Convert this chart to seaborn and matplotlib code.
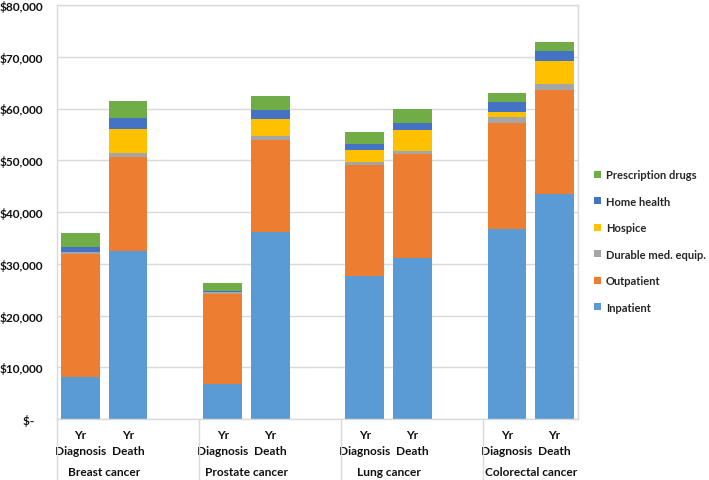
import matplotlib
matplotlib.use("Agg")
import matplotlib.pyplot as plt
import matplotlib.transforms as mtransforms
from matplotlib.patches import Patch
import numpy as np
import pandas as pd
import seaborn as sns

# ---- data ----
categories = ["Breast cancer", "Prostate cancer", "Lung cancer", "Colorectal cancer"]
periods = ["Yr\nDiagnosis", "Yr\nDeath"]
components = ["Inpatient", "Outpatient", "Durable med. equip.", "Hospice",
              "Home health", "Prescription drugs"]
inpatient = [8200, 32500, 6700, 36100, 27600, 31100, 36800, 43500]
outpatient = [23700, 18200, 17500, 17900, 21500, 20050, 20400, 20000]
durable = [300, 650, 250, 700, 600, 650, 1150, 1200]
hospice = [150, 4700, 50, 3300, 2200, 4050, 1050, 4450]
home_health = [950, 2100, 250, 1800, 1200, 1350, 1900, 1900]
prescription = [2600, 3250, 1550, 2550, 2450, 2700, 1750, 1850]
y_ticks = [0, 10000, 20000, 30000, 40000, 50000, 60000, 70000, 80000]
y_labels = ["$-   ", "$10,000", "$20,000", "$30,000", "$40,000",
            "$50,000", "$60,000", "$70,000", "$80,000"]

colors = ["#5B9BD5", "#ED7D31", "#A5A5A5", "#FFC000", "#4472C4", "#70AD47"]

sns.set_theme(style="white")
plt.rcParams["font.family"] = ["Lato", "DejaVu Sans"]
plt.rcParams["font.weight"] = "bold"

# slots: two bars per group plus an empty separator slot between groups
slots = []
for g in range(len(categories)):
    for p in range(len(periods)):
        slots.append(g * 3 + p)
n_slots = 3 * len(categories) - 1

layers = [inpatient, outpatient, durable, hospice, home_health, prescription]
cum = np.cumsum(np.array(layers, dtype=float), axis=0)

rows = []
for li, name in enumerate(components):
    for si, s in enumerate(slots):
        rows.append({"slot": s, "component": name, "cum": cum[li, si]})
df = pd.DataFrame(rows)

fig = plt.figure(figsize=(7.09, 4.81), dpi=100)
ax = fig.add_axes([57 / 709, 1 - 420 / 481, (578 - 57) / 709, (420 - 6) / 481])

for li in reversed(range(len(components))):
    sub = df[df["component"] == components[li]]
    sns.barplot(data=sub, x="slot", y="cum", order=list(range(n_slots)),
                color=colors[li], saturation=1, width=0.82, ax=ax,
                errorbar=None, linewidth=0)

ax.set_ylim(0, 80000)
ax.set_xlim(-0.5, n_slots - 0.5)
ax.set_yticks(y_ticks)
ax.set_yticklabels(y_labels, fontsize=8.6, fontweight="bold", color="#111111")
ax.yaxis.grid(True, color="#d9d9d9", linewidth=1)
ax.set_axisbelow(True)
ax.set_xlabel("")
ax.set_ylabel("")
for sp in ax.spines.values():
    sp.set_color("#d9d9d9")
    sp.set_linewidth(1)
ax.tick_params(axis="y", length=0, pad=10)

ax.set_xticks(slots)
ax.set_xticklabels(periods * len(categories), fontsize=8.6, fontweight="bold",
                   color="#111111", linespacing=1.6)
ax.tick_params(axis="x", length=0, pad=7)

trans = mtransforms.blended_transform_factory(ax.transData, ax.transAxes)
bottom_frac = -61 / 414
for g, cat in enumerate(categories):
    xc = g * 3 + 0.5
    ax.text(xc, -52 / 414, cat, transform=trans, ha="center", va="center",
            fontsize=8.6, fontweight="bold", color="#111111")
    ax.plot([g * 3 - 0.5, g * 3 - 0.5], [0, bottom_frac], transform=trans,
            color="#d9d9d9", linewidth=1, clip_on=False)

handles = [Patch(facecolor=colors[i], edgecolor="none", label=components[i])
           for i in reversed(range(len(components)))]
fig.legend(handles=handles, loc="upper left",
           bbox_to_anchor=(594 / 709, 1 - 170 / 481), frameon=False,
           prop={"size": 8, "weight": "bold"}, handlelength=0.6,
           handleheight=0.6, handletextpad=0.45, labelspacing=1.4,
           borderaxespad=0, borderpad=0)

fig.savefig("out.png", dpi=100)
